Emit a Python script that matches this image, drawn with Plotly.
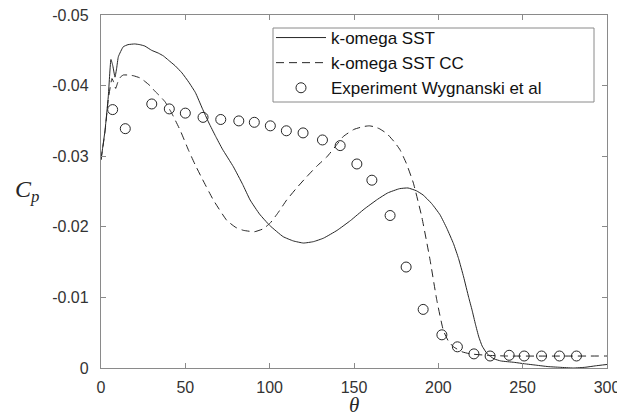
import plotly.graph_objects as go

# ---- data ----
sst_theta = [0, 2.4, 4.3, 5.9, 7.0, 8.3, 9.3, 10.3, 13.2, 16, 20, 23, 26, 30, 34, 37, 40, 44, 48, 52,
             56, 60, 64, 68, 72, 78.5, 84, 88.4, 94, 100, 108, 114, 120, 126, 132, 140, 148, 156,
             164, 170, 177, 182, 187, 191, 196, 201, 205, 209, 212, 215, 218, 220, 222, 224, 226,
             229, 233, 237, 245, 251, 258, 265, 272, 280, 287, 293, 300]
sst_cp = [-0.0295, -0.0337, -0.0384, -0.0437, -0.0428, -0.0412, -0.0425, -0.0441, -0.0455, -0.0458,
          -0.0459, -0.0458, -0.0456, -0.0450, -0.0446, -0.0442, -0.0436, -0.0428, -0.0418, -0.0405,
          -0.0390, -0.0368, -0.0347, -0.0328, -0.0310, -0.0285, -0.0260, -0.0238, -0.0218, -0.0202,
          -0.0186, -0.0180, -0.0177, -0.0179, -0.0184, -0.0195, -0.0209, -0.0225, -0.0239, -0.0248,
          -0.0254, -0.0255, -0.0251, -0.0245, -0.0233, -0.0217, -0.0198, -0.0176, -0.0155, -0.0129,
          -0.0100, -0.0082, -0.0062, -0.0044, -0.0031, -0.0020, -0.0013, -0.0010, -0.0008, -0.0006,
          -0.0004, -0.0002, -0.0001, 0.0000, -0.0001, -0.0003, -0.0005]

cc_theta = [0, 2.4, 4.3, 6.5, 7.5, 8.7, 10, 11.5, 13.2, 16, 19.2, 23, 26, 29, 32, 35, 38, 41.9, 46.9,
            51.8, 55.8, 60, 66.6, 74.6, 80, 84.4, 91, 96, 100.2, 105, 110.1, 116, 122, 128, 133.9,
            139, 143.7, 150, 155.6, 159, 161.5, 165, 169.5, 174, 177.3, 181, 185.2, 190.2, 195.1,
            199.1, 203, 206, 209, 214, 218.9, 228.8, 240, 300]
cc_cp = [-0.0295, -0.0335, -0.0380, -0.0410, -0.0405, -0.0396, -0.0405, -0.0412, -0.0415, -0.0415,
         -0.0414, -0.0411, -0.0406, -0.0400, -0.0392, -0.0385, -0.0377, -0.0361, -0.0337, -0.0309,
         -0.0288, -0.0268, -0.0238, -0.0209, -0.0199, -0.0195, -0.0193, -0.0197, -0.0205, -0.0220,
         -0.0238, -0.0255, -0.0271, -0.0286, -0.0299, -0.0314, -0.0328, -0.0338, -0.0342, -0.0343,
         -0.0342, -0.0339, -0.0332, -0.0320, -0.0309, -0.0290, -0.0262, -0.0214, -0.0153, -0.0096,
         -0.0053, -0.0038, -0.0030, -0.0023, -0.0020, -0.0018, -0.0017, -0.0017]

exp_theta = [6.9, 14.4, 30.1, 40.5, 50.0, 60.5, 71.0, 81.7, 90.9, 100.4, 109.9, 119.8, 131.3, 141.8,
             151.7, 160.6, 171.4, 180.9, 191.0, 202.1, 211.3, 221.1, 230.7, 242.0, 250.9, 261.2,
             271.8, 281.9]
exp_cp = [-0.0366, -0.0339, -0.0374, -0.0367, -0.0361, -0.0355, -0.0352, -0.0350, -0.0348, -0.0343,
          -0.0336, -0.0333, -0.0323, -0.0315, -0.0289, -0.0266, -0.0216, -0.0143, -0.0083, -0.0047,
          -0.0030, -0.0020, -0.0017, -0.0018, -0.0017, -0.0017, -0.0017, -0.0017]

x_ticks = [0, 50, 100, 150, 200, 250, 300]
x_tick_labels = ["0", "50", "100", "150", "200", "250", "300"]
y_ticks = [0, -0.01, -0.02, -0.03, -0.04, -0.05]
y_tick_labels = ["0", "-0.01", "-0.02", "-0.03", "-0.04", "-0.05"]

names = ["k-omega SST", "k-omega SST CC", "Experiment Wygnanski et al"]

# ---- figure ----
ink = "#262626"
axis_col = "#8a8a8a"
sans = "Liberation Sans, Arial, sans-serif"
serif = "Liberation Serif, Times New Roman, serif"

W, H = 617, 419
ML, MR, MT, MB = 101, 10, 15, 51
PW, PH = W - ML - MR, H - MT - MB


def px_x(px):
    return (px - ML) / PW


def px_y(py):
    return (H - MB - py) / PH


fig = go.Figure()
fig.add_trace(go.Scatter(x=sst_theta, y=sst_cp, mode="lines", name=names[0],
                         line=dict(color=ink, width=1, shape="spline", smoothing=0.4)))
fig.add_trace(go.Scatter(x=cc_theta, y=cc_cp, mode="lines", name=names[1],
                         line=dict(color=ink, width=1, dash="8px,5px", shape="spline", smoothing=0.4)))
fig.add_trace(go.Scatter(x=exp_theta, y=exp_cp, mode="markers", name=names[2],
                         marker=dict(symbol="circle-open", size=10, color=ink, line=dict(width=1, color=ink))))

axis_common = dict(showgrid=False, zeroline=False, showline=True, linecolor=axis_col, linewidth=1.3,
                   mirror="ticks", ticks="inside", ticklen=5, tickcolor=axis_col, tickwidth=1,
                   ticklabeloverflow="allow", automargin=False,
                   tickfont=dict(family=sans, size=16, color="#333333"))

fig.update_xaxes(range=[0, 300], tickmode="array", tickvals=x_ticks, ticktext=x_tick_labels,
                 ticklabelstandoff=5, **axis_common)
fig.update_yaxes(range=[0, -0.05], tickmode="array", tickvals=y_ticks, ticktext=y_tick_labels,
                 ticklabelstandoff=8, **axis_common)

fig.add_annotation(text="<i>C</i><sub><i>p</i></sub>", xref="paper", yref="paper",
                   x=px_x(27), y=px_y(191), showarrow=False, xanchor="center", yanchor="middle",
                   font=dict(family=serif, size=24, color=ink))
fig.add_annotation(text="<i>θ</i>", xref="paper", yref="paper",
                   x=px_x(354), y=px_y(405), showarrow=False, xanchor="center", yanchor="middle",
                   font=dict(family=serif, size=21, color=ink))

# legend frame (MATLAB-style box, wider than the entries)
fig.add_shape(type="rect", xref="paper", yref="paper",
              x0=px_x(273), x1=px_x(594), y0=px_y(102), y1=px_y(28),
              line=dict(color=axis_col, width=1), fillcolor="white", layer="below")

fig.update_layout(
    width=W, height=H,
    margin=dict(l=ML, r=MR, t=MT, b=MB, autoexpand=False),
    paper_bgcolor="white", plot_bgcolor="rgba(0,0,0,0)",
    showlegend=True,
    legend=dict(x=px_x(271), y=px_y(20), xanchor="left", yanchor="top",
                bgcolor="rgba(0,0,0,0)", borderwidth=0,
                font=dict(family=sans, size=17, color="#111111"),
                itemwidth=50, tracegroupgap=0),
)

fig.write_html("out.html", config={"displayModeBar": False},
               post_script="document.body.style.margin='0';")
